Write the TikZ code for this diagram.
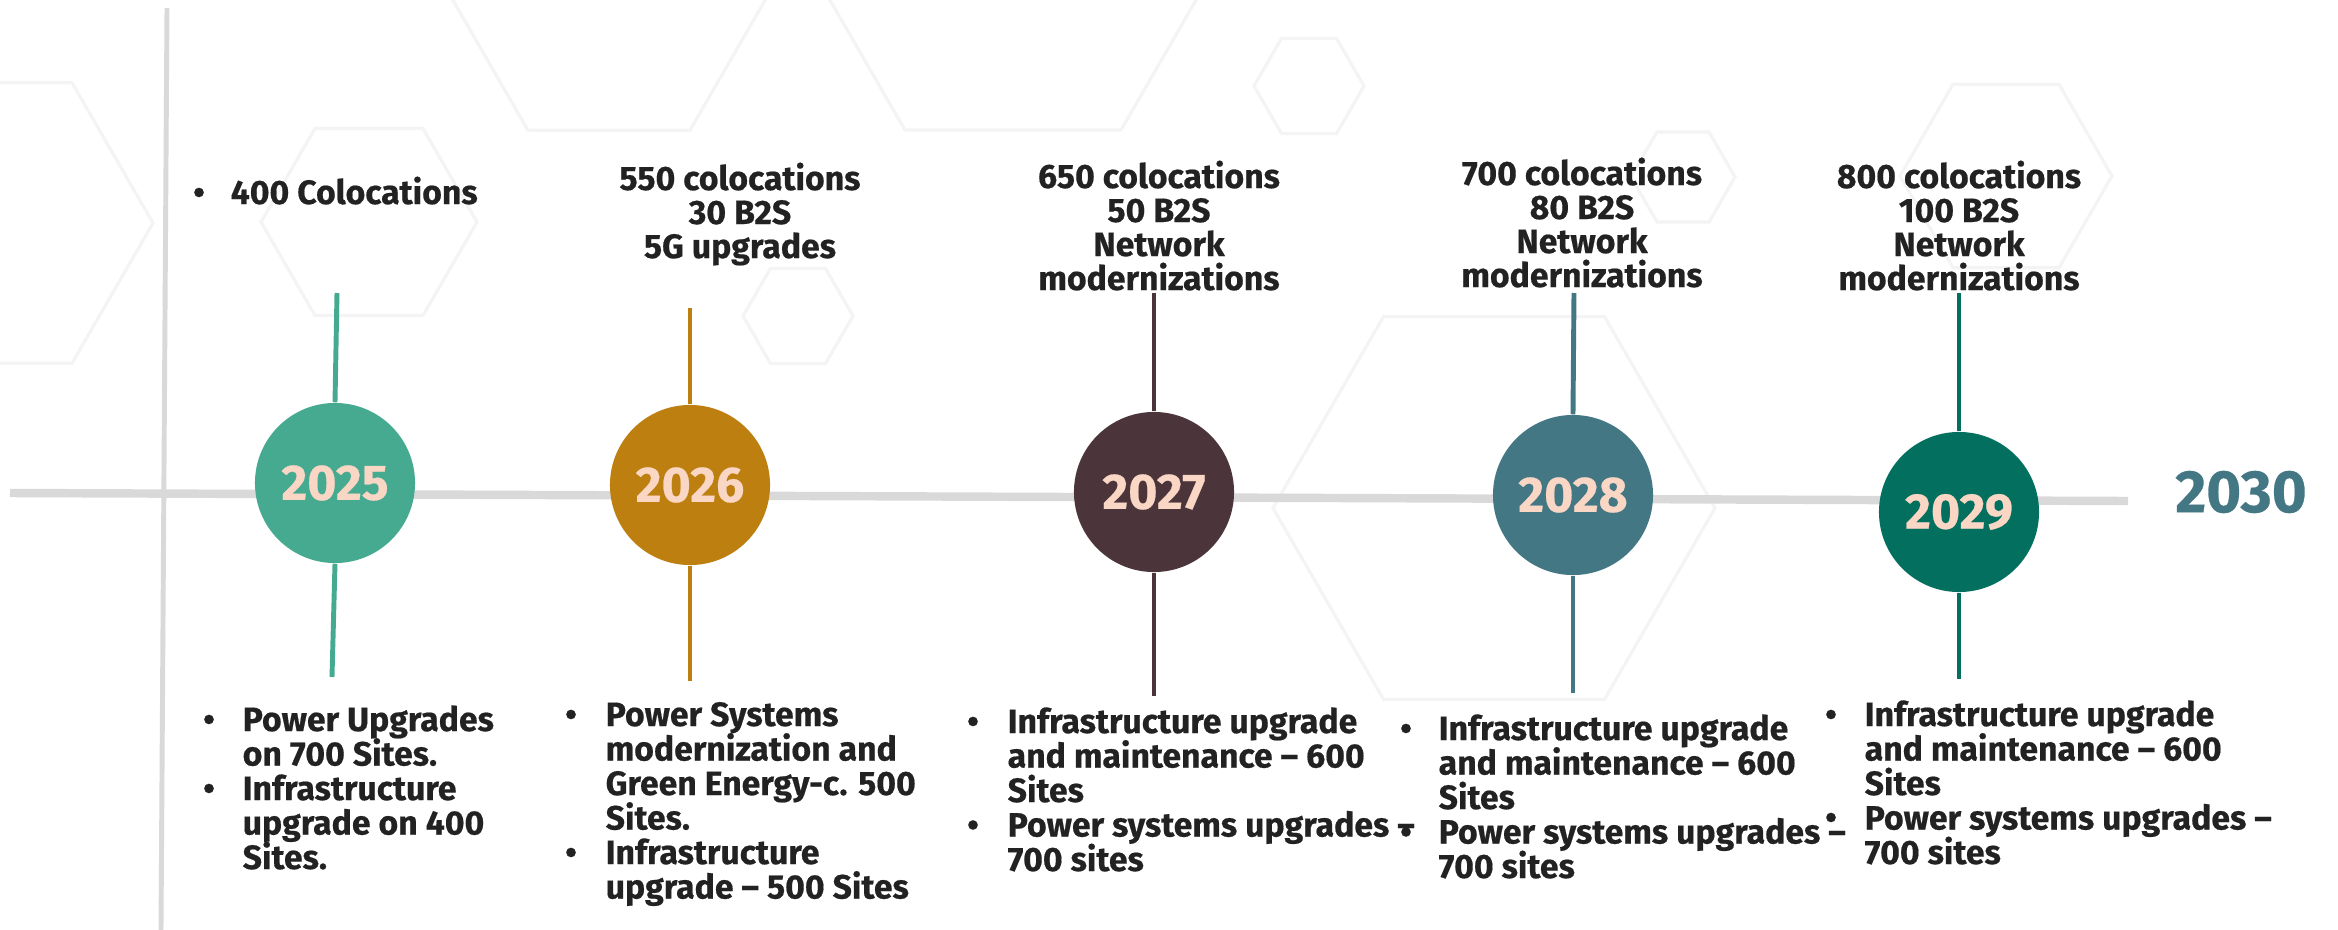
\documentclass[tikz,border=0pt]{standalone}
\usepackage{fontspec}
\setmainfont{Fira Sans}
\newfontfamily\txtfont{Fira Sans}[FakeBold=0.5]
\newfontfamily\yrfont{Fira Sans}[FakeBold=0.5]
\definecolor{c25}{HTML}{46AA91}
\definecolor{c26}{HTML}{BC7F10}
\definecolor{c27}{HTML}{4B353A}
\definecolor{c28}{HTML}{447784}
\definecolor{c29}{HTML}{036F5E}
\definecolor{peach}{HTML}{FAD6C5}
\definecolor{grayc}{HTML}{D9D9D9}
\definecolor{hexc}{HTML}{F4F4F4}
\definecolor{ink}{HTML}{222222}
\tikzset{
  hexa/.style={draw=hexc, line width=0.9pt},
  grayline/.style={draw=grayc, line width=2.4pt},
  stem/.style={line width=1.4pt},
  txt/.style={font=\txtfont\bfseries\fontsize{9.6}{9.8}\selectfont, text=ink, inner sep=0pt},
  yr/.style={circle, minimum size=1.6cm, inner sep=0pt, text=peach,
    font=\yrfont\bfseries\fontsize{14.2}{15}\selectfont},
}
\newcommand\topblk[4]{% name, center x, first baseline, lines
  \foreach \lnTxt [count=\i from 0] in {#4}
    \node[txt, anchor=base] (#1-\i) at (#2,{#3+\i*34}) {\lnTxt};}
\newcommand\botblk[4]{% name, left x, first baseline, lines
  \foreach \lnTxt [count=\i from 0] in {#4}
    \node[txt, anchor=base west] (#1-\i) at (#2,{#3+\i*34.5}) {\lnTxt};}
\begin{document}
\begin{tikzpicture}[x=0.01cm,y=-0.01cm]
\useasboundingbox (0,0) rectangle (2338,930);
\fill[white] (0,0) rectangle (2338,930);
% faint background hexagons
\foreach \cx/\cy/\r in {-9/223/162, 369/222/108, 609/-10/162, 1013/-57/216, 798/316/55,
    1309/86/55, 1683/177/52, 2006/176/106, 1494/508/221}
  \draw[hexa] ({\cx+\r},\cy) -- ({\cx+0.5*\r},{\cy+0.866*\r}) -- ({\cx-0.5*\r},{\cy+0.866*\r})
    -- ({\cx-\r},\cy) -- ({\cx-0.5*\r},{\cy-0.866*\r}) -- ({\cx+0.5*\r},{\cy-0.866*\r}) -- cycle;
% axes
\coordinate (hl0) at (10,493); \coordinate (hl1) at (2128,501);
\coordinate (vl0) at (167,8); \coordinate (vl1) at (161,930);
\draw[grayline] (hl0) -- (hl1);
\draw[grayline, line width=1.4pt] (vl0) -- (vl1);
% year circles
\node[yr, fill=c25] (y25) at (335,483) {2025};
\node[yr, fill=c26] (y26) at (690,485) {2026};
\node[yr, fill=c27] (y27) at (1154,492) {2027};
\node[yr, fill=c28] (y28) at (1573,495) {2028};
\node[yr, fill=c29] (y29) at (1959,512) {2029};
\node[inner sep=0pt, text=c28, font=\yrfont\bfseries\fontsize{17}{18}\selectfont] (y30) at (2241,492) {2030};
% stems
\coordinate (s25t) at (337,293); \coordinate (s25b) at (332,677);
\coordinate (s26t) at (690,308); \coordinate (s26b) at (690,681);
\coordinate (s27t) at (1154,293); \coordinate (s27b) at (1154,696);
\coordinate (s28t) at (1574,293); \coordinate (s28b) at (1573,693);
\coordinate (s29t) at (1959,293); \coordinate (s29b) at (1959,679);
\foreach \y/\c in {25/c25, 26/c26, 27/c27, 28/c28, 29/c29}{
  \draw[stem, draw=\c] (y\y.north) -- (s\y t);
  \draw[stem, draw=\c] (y\y.south) -- (s\y b);
}
% top texts
\node[txt, anchor=base] (t25-b) at (199,204) {•};
\node[txt, anchor=base west] (t25-0) at (230,204) {400 Colocations};
\topblk{t26}{740}{190}{{550 colocations},{30 B2S},{5G upgrades}}
\topblk{t27}{1159}{188}{{650 colocations},{50 B2S},{Network},{modernizations}}
\topblk{t28}{1582}{185}{{700 colocations},{80 B2S},{Network},{modernizations}}
\topblk{t29}{1959}{188}{{800 colocations},{100 B2S},{Network},{modernizations}}
% bottom texts
\botblk{b25}{242}{731}{{Power Upgrades},{on 700 Sites.},{Infrastructure},{upgrade on 400},{Sites.}}
\node[txt, anchor=base] (b25-p0) at (209,731) {•};
\node[txt, anchor=base] (b25-p1) at (209,800) {•};
\botblk{b26}{605}{726}{{Power Systems},{modernization and},{Green Energy-c. 500},{Sites.},{Infrastructure},{upgrade – 500 Sites}}
\node[txt, anchor=base] (b26-p0) at (571,726) {•};
\node[txt, anchor=base] (b26-p1) at (571,864) {•};
\botblk{b27}{1007}{733}{{Infrastructure upgrade},{and maintenance – 600},{Sites},{Power systems upgrades –},{700 sites}}
\node[txt, anchor=base] (b27-p0) at (973,733) {•};
\node[txt, anchor=base] (b27-p1) at (973,836.5) {•};
\botblk{b28}{1438}{740}{{Infrastructure upgrade},{and maintenance – 600},{Sites},{Power systems upgrades –},{700 sites}}
\node[txt, anchor=base] (b28-p0) at (1406,740) {•};
\node[txt, anchor=base] (b28-p1) at (1406,843.5) {•};
\botblk{b29}{1864}{726}{{Infrastructure upgrade},{and maintenance – 600},{Sites},{Power systems upgrades –},{700 sites}}
\node[txt, anchor=base] (b29-p0) at (1831,726) {•};
\node[txt, anchor=base] (b29-p1) at (1831,829) {•};
\end{tikzpicture}
\end{document}
